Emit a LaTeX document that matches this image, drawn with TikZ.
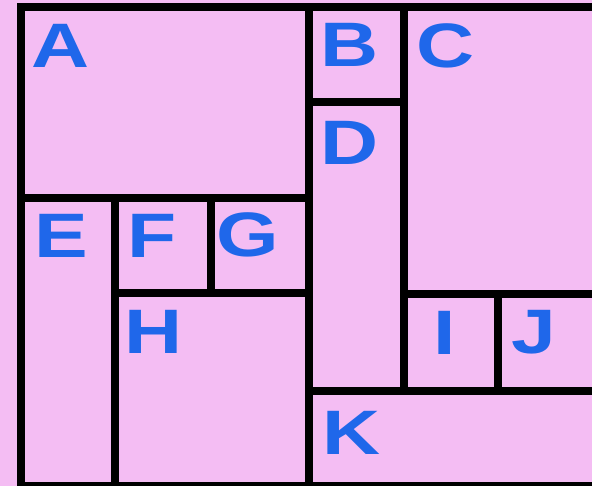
\documentclass[tikz,border=0pt]{standalone}
\usepackage{fontspec}
\usepackage{tikz}
\newfontfamily\tagfont{Liberation Sans}[FakeStretch=1.28]
\definecolor{roompink}{RGB}{244,189,243}
\definecolor{tagblue}{RGB}{31,103,234}

\begin{document}
\begin{tikzpicture}[x=1pt, y=-1pt,
    wall/.style={line width=7.5pt},
    tag/.style={text=tagblue, anchor=base, inner sep=0pt,
                font=\tagfont\bfseries\fontsize{62.8}{70}\selectfont}]
  \fill[roompink] (0,0) rectangle (592,486);
  \useasboundingbox (0,0) rectangle (592,486);
  \clip (0,0) rectangle (592,486);
  % outer frame
  \draw[wall] (600,7) -| (21,500);
  \draw[wall] (21,486) -- (600,486);
  % inner walls
  \draw[wall] (309,7) -- (309,490);
  \draw[wall] (404,7) -- (404,391);
  \draw[wall] (309,102) -- (404,102);
  \draw[wall] (21,198) -- (309,198);
  \draw[wall] (115,198) -- (115,490);
  \draw[wall] (211,198) -- (211,293);
  \draw[wall] (115,293) -- (309,293);
  \draw[wall] (404,294) -- (600,294);
  \draw[wall] (498,294) -- (498,391);
  \draw[wall] (309,391) -- (600,391);
  % room letters
  \node[tag] (lblA) at (60.5,68)  {A};
  \node[tag] (lblB) at (349.5,67) {B};
  \node[tag] (lblC) at (445.5,68) {C};
  \node[tag] (lblD) at (349.5,165) {D};
  \node[tag] (lblE) at (61.5,258) {E};
  \node[tag] (lblF) at (152.5,258) {F};
  \node[tag] (lblG) at (248,257)  {G};
  \node[tag] (lblH) at (154,354)  {H};
  \node[tag] (lblI) at (445,355)  {I};
  \node[tag] (lblJ) at (533.5,354) {J};
  \node[tag] (lblK) at (351.5,454) {K};
\end{tikzpicture}
\end{document}
